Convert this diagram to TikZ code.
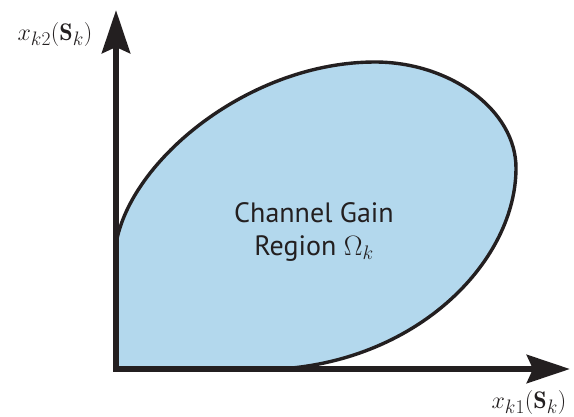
\RequirePackage{fix-cm}
\documentclass[tikz,border=0pt]{standalone}
\usepackage{fontspec}
\newfontfamily\regionfont{PT Sans}
\usetikzlibrary{arrows.meta}
\DeclareMathSizes{24}{24}{19.5}{14}
\definecolor{regionblue}{RGB}{179,216,237}
\definecolor{inkblack}{RGB}{35,31,32}
\tikzset{
  axisline/.style={draw=inkblack, line width=6.5pt, line join=miter,
    {Stealth[length=43pt,width=28pt,inset=6pt]}-{Stealth[length=43pt,width=28pt,inset=6pt]}},
  boundary/.style={draw=inkblack, line width=3.4pt},
  axislabel/.style={font=\fontsize{24}{29}\selectfont, text=inkblack, inner sep=0pt},
  regionlabel/.style={font=\regionfont\fontsize{28}{33}\selectfont, text=inkblack, align=center, inner sep=0pt},
}
\begin{document}
\begin{tikzpicture}[x=1pt,y=-1pt]
\useasboundingbox (0,0) rectangle (574,416);
% axis end points
\coordinate (origin) at (116,369);
\coordinate (ytip) at (116,10);
\coordinate (xtip) at (570,369);
% boundary points of the region
\coordinate (start) at (116,244);
\coordinate (top) at (375,62);
\coordinate (right) at (516,168);
\coordinate (touch) at (280,369);
% filled region
\fill[regionblue] (start) .. controls (130,160) and (250,62) .. (top)
  .. controls (450,62) and (516,110) .. (right)
  .. controls (516,260) and (420,360) .. (touch) -- (origin) -- cycle;
% region boundary
\draw[boundary] (start) .. controls (130,160) and (250,62) .. (top)
  .. controls (450,62) and (516,110) .. (right)
  .. controls (516,260) and (420,360) .. (touch);
% axes
\draw[axisline] (ytip) -- (origin) -- (xtip);
% labels
\node[axislabel] (ylabel) at (55,34.5) {$x_{k2}(\mathbf{S}_k)$};
\node[axislabel] (xlabel) at (529,402) {$x_{k1}(\mathbf{S}_k)$};
\node[regionlabel] (region) at (314,232) {Channel Gain\\Region $\Omega_k$};
\end{tikzpicture}
\end{document}
